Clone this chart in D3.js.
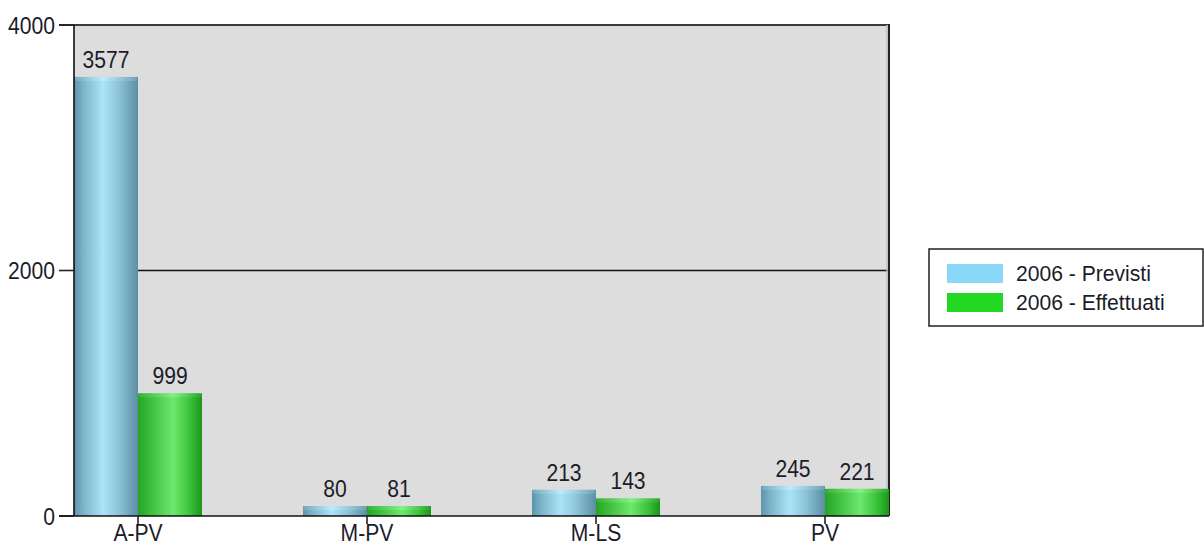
<!DOCTYPE html>
<html>
<head>
<meta charset="utf-8">
<script src="https://cdn.jsdelivr.net/npm/d3@7"></script>
<style>
  html, body { margin: 0; padding: 0; background: #fff; }
  svg { display: block; }
  text { font-family: "Liberation Sans", Arial, sans-serif; fill: #1c1c28; }
</style>
</head>
<body>
<svg id="chart" width="1204" height="546"></svg>
<script>
// Controls per type: planned vs carried out (2006)
const categories = ["A-PV", "M-PV", "M-LS", "PV"];
const previsti = [3577, 80, 213, 245];
const effettuati = [999, 81, 143, 221];
const seriesNames = ["2006 - Previsti", "2006 - Effettuati"];
const yTicks = [0, 2000, 4000];

const svg = d3.select("#chart");
const plot = { left: 74, right: 889, top: 25, bottom: 516 };
const FONT = 24, SQUEEZE = 0.88;

// place a slightly condensed label at (px, py)
function label(sel, px, py, size = FONT, squeeze = SQUEEZE) {
  return sel
    .attr("x", 0).attr("y", 0)
    .attr("font-size", size)
    .attr("transform", (d, i) => `translate(${px(d, i)},${py(d, i)}) scale(${squeeze},1)`);
}

const x = d3.scaleBand()
  .domain(categories)
  .range([plot.left, plot.right])
  .paddingInner(0.441)
  .paddingOuter(0);

const sub = d3.scaleBand()
  .domain([0, 1])
  .range([0, x.bandwidth()]);

const y = d3.scaleLinear()
  .domain([0, 4000])
  .range([plot.bottom, plot.top]);

// gradients for the cylinder-looking bars
const defs = svg.append("defs");
function hGrad(id, stops) {
  const g = defs.append("linearGradient").attr("id", id)
    .attr("x1", "0%").attr("x2", "100%").attr("y1", "0%").attr("y2", "0%");
  stops.forEach(([o, c]) => g.append("stop").attr("offset", o).attr("stop-color", c));
}
hGrad("gBlue", [["0%", "#5e94aa"], ["15%", "#7cb4ca"], ["45%", "#abe4f8"], ["70%", "#8cc3d8"], ["100%", "#5a8ea4"]]);
hGrad("gBlueCap", [["0%", "#7aafc4"], ["45%", "#c4effc"], ["100%", "#76a9be"]]);
hGrad("gGreen", [["0%", "#26a326"], ["15%", "#36b836"], ["55%", "#6ee86e"], ["80%", "#3cc43c"], ["100%", "#1a951a"]]);
hGrad("gGreenCap", [["0%", "#3cb83c"], ["55%", "#8ef48e"], ["100%", "#30ac30"]]);

// plot background
svg.append("rect")
  .attr("x", plot.left).attr("y", plot.top)
  .attr("width", plot.right - plot.left).attr("height", plot.bottom - plot.top)
  .attr("fill", "#dddddd");

// gridline at 2000
svg.append("g").selectAll("line")
  .data(yTicks.filter(d => d > 0 && d < 4000))
  .join("line")
  .attr("x1", plot.left).attr("x2", plot.right)
  .attr("y1", d => y(d)).attr("y2", d => y(d))
  .attr("stroke", "#111").attr("stroke-width", 1.6);

// top and right frame
svg.append("line")
  .attr("x1", 59).attr("x2", plot.right + 1)
  .attr("y1", plot.top).attr("y2", plot.top)
  .attr("stroke", "#3a3a3a").attr("stroke-width", 2);
svg.append("line")
  .attr("x1", plot.right - 2).attr("x2", plot.right - 2)
  .attr("y1", plot.top).attr("y2", plot.bottom)
  .attr("stroke", "#bdbdbd").attr("stroke-width", 1.5);
svg.append("line")
  .attr("x1", plot.right).attr("x2", plot.right)
  .attr("y1", plot.top - 1).attr("y2", plot.bottom)
  .attr("stroke", "#222").attr("stroke-width", 2);

// bars
const series = [
  { values: previsti, body: "url(#gBlue)", cap: "url(#gBlueCap)" },
  { values: effettuati, body: "url(#gGreen)", cap: "url(#gGreenCap)" }
];

const barsG = svg.append("g");
series.forEach((s, si) => {
  const g = barsG.append("g");
  const data = categories.map((c, i) => ({ c, v: s.values[i] }));
  g.selectAll("rect.body")
    .data(data)
    .join("rect")
    .attr("class", "body")
    .attr("x", d => x(d.c) + sub(si))
    .attr("y", d => y(d.v))
    .attr("width", sub.bandwidth())
    .attr("height", d => y(0) - y(d.v))
    .attr("fill", s.body);
  g.selectAll("rect.cap")
    .data(data)
    .join("rect")
    .attr("class", "cap")
    .attr("x", d => x(d.c) + sub(si) + 0.5)
    .attr("y", d => y(d.v))
    .attr("width", sub.bandwidth() - 1)
    .attr("height", 4)
    .attr("rx", 3).attr("ry", 2)
    .attr("fill", s.cap)
    .attr("opacity", 0.7);
  label(
    g.selectAll("text").data(data).join("text")
      .attr("text-anchor", "middle")
      .text(d => d.v),
    d => x(d.c) + sub(si) + sub.bandwidth() / 2,
    d => y(d.v) - 9
  );
});

// y axis
const yAxis = svg.append("g");
yAxis.append("line")
  .attr("x1", plot.left).attr("x2", plot.left)
  .attr("y1", plot.top).attr("y2", plot.bottom)
  .attr("stroke", "#111").attr("stroke-width", 1.6);
yAxis.selectAll("line.tick")
  .data(yTicks)
  .join("line")
  .attr("class", "tick")
  .attr("x1", 59).attr("x2", plot.left)
  .attr("y1", d => y(d)).attr("y2", d => y(d))
  .attr("stroke", "#222").attr("stroke-width", 1.6);
label(
  yAxis.selectAll("text").data(yTicks).join("text")
    .attr("dy", "0.36em")
    .attr("text-anchor", "end")
    .text(d => d),
  () => 55,
  d => y(d)
);

// x axis baseline
svg.append("line")
  .attr("x1", 59).attr("x2", plot.right)
  .attr("y1", y(0)).attr("y2", y(0))
  .attr("stroke", "#111").attr("stroke-width", 1.6);

const xAxis = svg.append("g");
xAxis.selectAll("line")
  .data(categories)
  .join("line")
  .attr("x1", d => x(d) + x.bandwidth() / 2)
  .attr("x2", d => x(d) + x.bandwidth() / 2)
  .attr("y1", y(0)).attr("y2", y(0) + 8)
  .attr("stroke", "#222").attr("stroke-width", 1.6);
label(
  xAxis.selectAll("text").data(categories).join("text")
    .attr("text-anchor", "middle")
    .text(d => d),
  d => x(d) + x.bandwidth() / 2,
  () => 541
);

// legend
const legend = svg.append("g").attr("transform", "translate(929,249)");
legend.append("rect")
  .attr("x", 0).attr("y", 0).attr("width", 274).attr("height", 77)
  .attr("fill", "#fff").attr("stroke", "#222").attr("stroke-width", 1.5);
const legendColors = ["#8ad8f8", "#22d822"];
legend.selectAll("rect.swatch")
  .data(seriesNames)
  .join("rect")
  .attr("class", "swatch")
  .attr("x", 18).attr("y", (d, i) => 15 + i * 29)
  .attr("width", 56).attr("height", 19)
  .attr("fill", (d, i) => legendColors[i]);
label(
  legend.selectAll("text").data(seriesNames).join("text")
    .text(d => d),
  () => 87,
  (d, i) => 15 + i * 29 + 17,
  22, 0.96
);
</script>
</body>
</html>
